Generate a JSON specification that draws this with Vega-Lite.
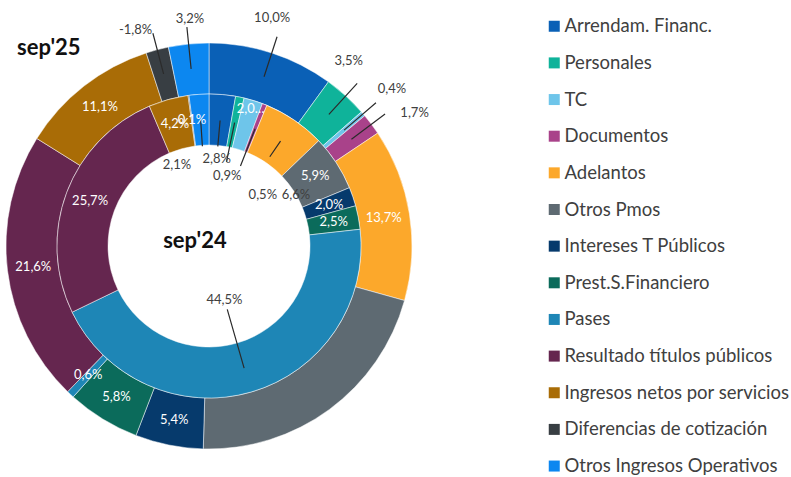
{
  "$schema": "https://vega.github.io/schema/vega-lite/v6.json",
  "width": 418,
  "height": 462,
  "autosize": {"type": "none"},
  "padding": {"left": 0, "top": 15, "right": 373, "bottom": 0},
  "background": "white",
  "config": {"font": "Lato", "view": {"stroke": null}},
  "title": {"text": "sep'25", "anchor": "start", "orient": "top", "frame": "group", "dx": 17, "offset": -82, "baseline": "alphabetic", "fontSize": 22, "fontWeight": "bold", "color": "#111111", "font": "Lato"},
  "data": {"values": [
    {"period": "sep'25", "idx": 1, "category": "Arrendam. Financ.", "magnitude": 10.0, "label": "10,0%"},
    {"period": "sep'25", "idx": 2, "category": "Personales", "magnitude": 3.5, "label": "3,5%"},
    {"period": "sep'25", "idx": 3, "category": "TC", "magnitude": 0.4, "label": "0,4%"},
    {"period": "sep'25", "idx": 4, "category": "Documentos", "magnitude": 1.7, "label": "1,7%"},
    {"period": "sep'25", "idx": 5, "category": "Adelantos", "magnitude": 13.7, "label": "13,7%"},
    {"period": "sep'25", "idx": 6, "category": "Otros Pmos", "magnitude": 21.1, "label": "21,1%"},
    {"period": "sep'25", "idx": 7, "category": "Intereses T Públicos", "magnitude": 5.4, "label": "5,4%"},
    {"period": "sep'25", "idx": 8, "category": "Prest.S.Financiero", "magnitude": 5.8, "label": "5,8%"},
    {"period": "sep'25", "idx": 9, "category": "Pases", "magnitude": 0.6, "label": "0,6%"},
    {"period": "sep'25", "idx": 10, "category": "Resultado títulos públicos", "magnitude": 21.6, "label": "21,6%"},
    {"period": "sep'25", "idx": 11, "category": "Ingresos netos por servicios", "magnitude": 11.1, "label": "11,1%"},
    {"period": "sep'25", "idx": 12, "category": "Diferencias de cotización", "magnitude": 1.8, "label": "-1,8%"},
    {"period": "sep'25", "idx": 13, "category": "Otros Ingresos Operativos", "magnitude": 3.2, "label": "3,2%"},
    {"period": "sep'24", "idx": 1, "category": "Arrendam. Financ.", "magnitude": 2.8, "label": "2,8%"},
    {"period": "sep'24", "idx": 2, "category": "Personales", "magnitude": 0.9, "label": "0,9%"},
    {"period": "sep'24", "idx": 3, "category": "TC", "magnitude": 2.0, "label": "2,0%"},
    {"period": "sep'24", "idx": 4, "category": "Documentos", "magnitude": 0.5, "label": "0,5%"},
    {"period": "sep'24", "idx": 5, "category": "Adelantos", "magnitude": 6.6, "label": "6,6%"},
    {"period": "sep'24", "idx": 6, "category": "Otros Pmos", "magnitude": 5.9, "label": "5,9%"},
    {"period": "sep'24", "idx": 7, "category": "Intereses T Públicos", "magnitude": 2.0, "label": "2,0%"},
    {"period": "sep'24", "idx": 8, "category": "Prest.S.Financiero", "magnitude": 2.5, "label": "2,5%"},
    {"period": "sep'24", "idx": 9, "category": "Pases", "magnitude": 44.5, "label": "44,5%"},
    {"period": "sep'24", "idx": 10, "category": "Resultado títulos públicos", "magnitude": 25.7, "label": "25,7%"},
    {"period": "sep'24", "idx": 11, "category": "Ingresos netos por servicios", "magnitude": 4.2, "label": "4,2%"},
    {"period": "sep'24", "idx": 12, "category": "Diferencias de cotización", "magnitude": 0.1, "label": "0,1%"},
    {"period": "sep'24", "idx": 13, "category": "Otros Ingresos Operativos", "magnitude": 2.1, "label": "2,1%"}
  ]},
  "layer": [
    {
      "transform": [{"filter": {"field": "period", "equal": "sep'25"}}],
      "encoding": {
        "theta": {"field": "magnitude", "type": "quantitative", "stack": true},
        "order": {"field": "idx", "type": "quantitative"},
        "color": {
          "field": "category", "type": "nominal",
          "scale": {
            "domain": ["Arrendam. Financ.", "Personales", "TC", "Documentos", "Adelantos", "Otros Pmos", "Intereses T Públicos", "Prest.S.Financiero", "Pases", "Resultado títulos públicos", "Ingresos netos por servicios", "Diferencias de cotización", "Otros Ingresos Operativos"],
            "range": ["#0A60B6", "#0FB39A", "#6EC5EA", "#A9428A", "#FCA82B", "#5E6A72", "#063A6C", "#0B6B5B", "#1E86B6", "#65264F", "#A96C06", "#383E43", "#0C87F0"]
          },
          "legend": {"title": null, "orient": "none", "legendX": 545, "legendY": 2, "symbolType": "square", "symbolSize": 121, "symbolStrokeWidth": 0, "symbolOpacity": 1, "labelFontSize": 18.5, "labelFont": "Lato", "labelColor": "#404040", "labelOffset": 1, "rowPadding": 17.65, "labelLimit": 300}
        }
      },
      "layer": [
        {"mark": {"type": "arc", "outerRadius": 203, "innerRadius": 152, "stroke": "white", "strokeWidth": 0.5}},
        {"mark": {"type": "arc", "outerRadius": 220, "innerRadius": 178, "padAngle": 3.2, "strokeWidth": 1.2},
         "encoding": {"color": {"value": "transparent"},
           "stroke": {"condition": {"test": "indexof(['Arrendam. Financ.','Personales','TC','Documentos','Diferencias de cotización','Otros Ingresos Operativos'], datum.category) >= 0", "value": "#2b2b2b"}, "value": "transparent"}}},
        {"mark": {"type": "text", "radius": 177, "fontSize": 13},
         "encoding": {"color": {"value": "white"},
           "text": {"condition": {"test": "indexof(['Adelantos','Intereses T Públicos','Prest.S.Financiero','Pases','Resultado títulos públicos','Ingresos netos por servicios'], datum.category) >= 0", "field": "label", "type": "nominal"}, "value": ""}}},
        {"mark": {"type": "text", "radius": 237, "thetaOffset": -0.045, "fontSize": 13},
         "encoding": {"color": {"value": "#404040"},
           "text": {"condition": {"test": "datum.category === 'Arrendam. Financ.'", "field": "label", "type": "nominal"}, "value": ""}}},
        {"mark": {"type": "text", "radius": 232, "thetaOffset": -0.093, "fontSize": 13},
         "encoding": {"color": {"value": "#404040"},
           "text": {"condition": {"test": "datum.category === 'Personales'", "field": "label", "type": "nominal"}, "value": ""}}},
        {"mark": {"type": "text", "radius": 241, "fontSize": 13},
         "encoding": {"color": {"value": "#404040"},
           "text": {"condition": {"test": "datum.category === 'TC'", "field": "label", "type": "nominal"}, "value": ""}}},
        {"mark": {"type": "text", "radius": 245, "thetaOffset": 0.068, "fontSize": 13},
         "encoding": {"color": {"value": "#404040"},
           "text": {"condition": {"test": "datum.category === 'Documentos'", "field": "label", "type": "nominal"}, "value": ""}}},
        {"mark": {"type": "text", "radius": 228, "thetaOffset": -0.07, "fontSize": 13},
         "encoding": {"color": {"value": "#404040"},
           "text": {"condition": {"test": "datum.category === 'Diferencias de cotización'", "field": "label", "type": "nominal"}, "value": ""}}},
        {"mark": {"type": "text", "radius": 228, "thetaOffset": 0.017, "fontSize": 13},
         "encoding": {"color": {"value": "#404040"},
           "text": {"condition": {"test": "datum.category === 'Otros Ingresos Operativos'", "field": "label", "type": "nominal"}, "value": ""}}}
      ]
    },
    {
      "transform": [{"filter": {"field": "period", "equal": "sep'24"}}],
      "encoding": {
        "theta": {"field": "magnitude", "type": "quantitative", "stack": true},
        "order": {"field": "idx", "type": "quantitative"},
        "color": {
          "field": "category", "type": "nominal",
          "scale": {
            "domain": ["Arrendam. Financ.", "Personales", "TC", "Documentos", "Adelantos", "Otros Pmos", "Intereses T Públicos", "Prest.S.Financiero", "Pases", "Resultado títulos públicos", "Ingresos netos por servicios", "Diferencias de cotización", "Otros Ingresos Operativos"],
            "range": ["#0A60B6", "#0FB39A", "#6EC5EA", "#A9428A", "#FCA82B", "#5E6A72", "#063A6C", "#0B6B5B", "#1E86B6", "#65264F", "#A96C06", "#383E43", "#0C87F0"]
          },
          "legend": {"title": null, "orient": "none", "legendX": 545, "legendY": 2, "symbolType": "square", "symbolSize": 121, "symbolStrokeWidth": 0, "symbolOpacity": 1, "labelFontSize": 18.5, "labelFont": "Lato", "labelColor": "#404040", "labelOffset": 1, "rowPadding": 17.65, "labelLimit": 300}
        }
      },
      "layer": [
        {"mark": {"type": "arc", "outerRadius": 152, "innerRadius": 101, "stroke": "white", "strokeWidth": 0.5}},
        {"mark": {"type": "arc", "outerRadius": 126, "innerRadius": 100, "padAngle": 3.2, "strokeWidth": 1.2},
         "encoding": {"color": {"value": "transparent"},
           "stroke": {"condition": {"test": "indexof(['Arrendam. Financ.','Otros Ingresos Operativos'], datum.category) >= 0", "value": "#2b2b2b"}, "value": "transparent"}}},
        {"mark": {"type": "arc", "outerRadius": 126, "innerRadius": 86, "padAngle": 3.2, "strokeWidth": 1.2},
         "encoding": {"color": {"value": "transparent"},
           "stroke": {"condition": {"test": "indexof(['Personales','Documentos'], datum.category) >= 0", "value": "#2b2b2b"}, "value": "transparent"}}},
        {"mark": {"type": "arc", "outerRadius": 127, "innerRadius": 108, "padAngle": 3.2, "strokeWidth": 1.2},
         "encoding": {"color": {"value": "transparent"},
           "stroke": {"condition": {"test": "datum.category === 'Adelantos'", "value": "#2b2b2b"}, "value": "transparent"}}},
        {"mark": {"type": "arc", "outerRadius": 127, "innerRadius": 66, "padAngle": 3.2, "strokeWidth": 1.2},
         "encoding": {"color": {"value": "transparent"},
           "stroke": {"condition": {"test": "datum.category === 'Pases'", "value": "#2b2b2b"}, "value": "transparent"}}},
        {"mark": {"type": "text", "radius": 127, "fontSize": 13},
         "encoding": {"color": {"value": "white"},
           "text": {"condition": {"test": "indexof(['Otros Pmos','Intereses T Públicos','Prest.S.Financiero','Resultado títulos públicos','Ingresos netos por servicios','Diferencias de cotización'], datum.category) >= 0", "field": "label", "type": "nominal"}, "value": ""}}},
        {"mark": {"type": "text", "radius": 143, "fontSize": 13, "limit": 28},
         "encoding": {"color": {"value": "white"},
           "text": {"condition": {"test": "datum.category === 'TC'", "field": "label", "type": "nominal"}, "value": ""}}},
        {"mark": {"type": "text", "radius": 87, "fontSize": 13},
         "encoding": {"color": {"value": "#404040"},
           "text": {"condition": {"test": "datum.category === 'Arrendam. Financ.'", "field": "label", "type": "nominal"}, "value": ""}}},
        {"mark": {"type": "text", "radius": 72, "thetaOffset": 0.05, "fontSize": 13},
         "encoding": {"color": {"value": "#404040"},
           "text": {"condition": {"test": "datum.category === 'Personales'", "field": "label", "type": "nominal"}, "value": ""}}},
        {"mark": {"type": "text", "radius": 74, "thetaOffset": 0.44, "fontSize": 13},
         "encoding": {"color": {"value": "#404040"},
           "text": {"condition": {"test": "datum.category === 'Documentos'", "field": "label", "type": "nominal"}, "value": ""}}},
        {"mark": {"type": "text", "radius": 101, "thetaOffset": 0.44, "fontSize": 13},
         "encoding": {"color": {"value": "#404040"},
           "text": {"condition": {"test": "datum.category === 'Adelantos'", "field": "label", "type": "nominal"}, "value": ""}}},
        {"mark": {"type": "text", "radius": 56, "fontSize": 13},
         "encoding": {"color": {"value": "#404040"},
           "text": {"condition": {"test": "datum.category === 'Pases'", "field": "label", "type": "nominal"}, "value": ""}}},
        {"mark": {"type": "text", "radius": 87, "thetaOffset": -0.31, "fontSize": 13},
         "encoding": {"color": {"value": "#404040"},
           "text": {"condition": {"test": "datum.category === 'Otros Ingresos Operativos'", "field": "label", "type": "nominal"}, "value": ""}}}
      ]
    },
    {
      "data": {"values": [{"name": "sep'24"}]},
      "mark": {"type": "text", "fontSize": 22, "fontWeight": "bold", "color": "#111111", "dx": -14, "dy": 2, "baseline": "alphabetic", "align": "center"},
      "encoding": {"text": {"field": "name", "type": "nominal"}}
    }
  ],
  "resolve": {"scale": {"theta": "independent"}}
}
